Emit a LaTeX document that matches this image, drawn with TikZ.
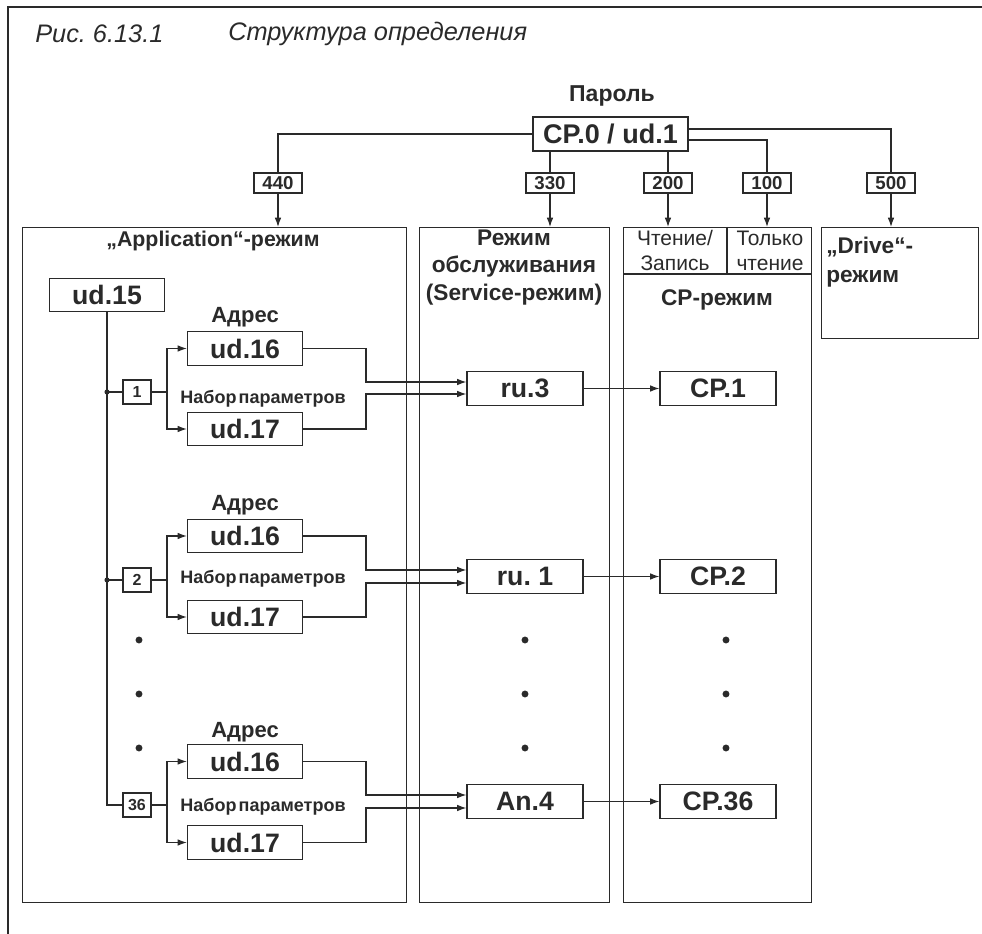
\documentclass[tikz,border=0pt]{standalone}
\usepackage{fontspec}
\setmainfont{Liberation Sans}
\usetikzlibrary{arrows.meta}
\definecolor{ink}{HTML}{2A2A2A}
\frenchspacing
\begin{document}
\begin{tikzpicture}[x=0.75pt,y=-0.75pt,
  ln/.style={line width=0.9pt, draw=ink},
  arr/.style={ln, -{Latex[length=7pt,width=5pt]}},
  bx/.style={draw=ink, line width=0.9pt, inner sep=0pt, text=ink, font=\bfseries\fontsize{20}{24}\selectfont},
  ubox/.style={bx, minimum width=86.25pt, minimum height=25pt},
  nbox/.style={bx, minimum width=36pt, minimum height=15pt, font=\bfseries\fontsize{14}{16}\selectfont},
  sbox/.style={bx, minimum width=21pt, minimum height=18pt, font=\bfseries\fontsize{12}{14}\selectfont},
  region/.style={draw=ink, line width=0.9pt, anchor=north west, inner sep=0pt},
  txt/.style={inner sep=0pt, text=ink},
  adr/.style={txt, font=\bfseries\fontsize{16.5}{19}\selectfont},
  nab/.style={txt, font=\bfseries\fontsize{13.5}{16}\selectfont},
  head/.style={txt, font=\bfseries\fontsize{17}{20.6}\selectfont},
  dotp/.style={fill=ink},
]
\useasboundingbox (0,0) rectangle (982,934);
% frame
\draw[line width=1.8pt, draw=ink] (982,7) -- (8,7) -- (8,934);
% title
\node[txt, anchor=west, font=\itshape\fontsize{19}{22}\selectfont] (t1) at (35,34) {Рис. 6.13.1};
\node[txt, anchor=west, font=\itshape\fontsize{19}{22}\selectfont] (t2) at (228,34) {Структура определения};
% password
\node[txt, font=\bfseries\fontsize{17.25}{20}\selectfont] (pw) at (612,96) {Пароль};
\node[bx, minimum width=116.25pt, minimum height=25.5pt, font=\bfseries\fontsize{20.25}{24}\selectfont] (cp0) at (610.5,134) {CP.0 / ud.1};
% number boxes
\node[nbox] (n440) at (278,183) {440};
\node[nbox] (n330) at (550,183) {330};
\node[nbox] (n200) at (668,183) {200};
\node[nbox] (n100) at (767,183) {100};
\node[nbox] (n500) at (891,183) {500};
% regions
\node[region, minimum width=288pt, minimum height=506.25pt] (app) at (22,227) {};
\node[region, minimum width=142.5pt, minimum height=506.25pt] (svc) at (419,227) {};
\node[region, minimum width=141pt, minimum height=506.25pt] (cpm) at (623,227) {};
\node[region, minimum width=117.75pt, minimum height=83.25pt] (drv) at (821,227) {};
\draw[ln] (cpm.west |- 0,274) -- (cpm.east |- 0,274);
\draw[ln] (727,227) -- (727,274);
% top connectors
\draw[ln] (cp0.west) -| (n440);
\draw[ln] (cp0.south -| n330) -- (n330);
\draw[ln] (cp0.south -| n200) -- (n200);
\draw[ln] (cp0.east |- 0,140) -| (n100);
\draw[ln] (cp0.east |- 0,129) -| (n500);
\draw[arr] (n440) -- (n440 |- app.north);
\draw[arr] (n330) -- (n330 |- svc.north);
\draw[arr] (n200) -- (n200 |- cpm.north);
\draw[arr] (n100) -- (n100 |- cpm.north);
\draw[arr] (n500) -- (n500 |- drv.north);
% region titles
\node[txt, font=\bfseries\fontsize{16}{19}\selectfont] (appt) at (213,241) {„Application“-режим};
\node[head, align=center] (svct) at (514,267.5) {Режим\\обслуживания\\(Service-режим)};
\node[txt, align=center, font=\fontsize{15.75}{18.75}\selectfont] (rw) at (675,250.5) {Чтение/\\Запись};
\node[txt, align=center, font=\fontsize{15.75}{18.75}\selectfont] (ro) at (770,250.5) {Только\\чтение};
\node[head] (cpt) at (717,300) {CP-режим};
\node[txt, align=left, anchor=west, font=\bfseries\fontsize{17}{21.75}\selectfont] (drvt) at (826,262.5) {„Drive“-\\режим};
% application mode
\node[ubox] (u15) at (107,295) {ud.15};
% group 1
\node[adr] (adr1) at (245,317) {Адрес};
\node[ubox] (u16a) at (245,348.5) {ud.16};
\node[sbox] (b1) at (137,392) {1};
\node[nab] (nab1) at (263,399) {Набор\hspace{0.12em}параметров};
\node[ubox] (u17a) at (245,429) {ud.17};
% group 2
\node[adr] (adr2) at (245,505) {Адрес};
\node[ubox] (u16b) at (245,536) {ud.16};
\node[sbox] (b2) at (137,580) {2};
\node[nab] (nab2) at (263,579) {Набор\hspace{0.12em}параметров};
\node[ubox] (u17b) at (245,617) {ud.17};
% group 3
\node[adr] (adr3) at (245,732) {Адрес};
\node[ubox] (u16c) at (245,761.5) {ud.16};
\node[sbox] (b3) at (137,805) {36};
\node[nab] (nab3) at (263,807) {Набор\hspace{0.12em}параметров};
\node[ubox] (u17c) at (245,842.5) {ud.17};
% service / CP boxes
\node[ubox, minimum width=87pt] (ru3) at (525,388.5) {ru.3};
\node[ubox, minimum width=87pt] (cp1) at (718,388.5) {CP.1};
\node[ubox, minimum width=87pt] (ru1) at (525,576.5) {ru. 1};
\node[ubox, minimum width=87pt] (cp2) at (718,576.5) {CP.2};
\node[ubox, minimum width=87pt] (an4) at (525,801.5) {An.4};
\node[ubox, minimum width=87pt] (cp36) at (718,801.5) {CP.36};
% trunk
\coordinate (j1) at (107,392);
\coordinate (j2) at (107,580);
\coordinate (k1) at (167,392);
\coordinate (k2) at (167,580);
\coordinate (k3) at (167,805);
\draw[ln] (u15.south) -- (107,805) -- (b3.west);
\draw[ln] (j1) -- (b1.west);
\draw[ln] (j2) -- (b2.west);
\fill[dotp] (j1) circle[radius=1.9pt];
\fill[dotp] (j2) circle[radius=1.9pt];
\draw[ln] (b1.east) -- (k1);
\draw[ln] (b2.east) -- (k2);
\draw[ln] (b3.east) -- (k3);
\draw[arr] (k1) |- (u16a.west);
\draw[arr] (k1) |- (u17a.west);
\draw[arr] (k2) |- (u16b.west);
\draw[arr] (k2) |- (u17b.west);
\draw[arr] (k3) |- (u16c.west);
\draw[arr] (k3) |- (u17c.west);
% to service
\draw[arr] (u16a.east) -| (366,382) -- (ru3.west |- 0,382);
\draw[arr] (u17a.east) -| (366,394) -- (ru3.west |- 0,394);
\draw[arr] (u16b.east) -| (366,570) -- (ru1.west |- 0,570);
\draw[arr] (u17b.east) -| (366,583) -- (ru1.west |- 0,583);
\draw[arr] (u16c.east) -| (366,795) -- (an4.west |- 0,795);
\draw[arr] (u17c.east) -| (366,808) -- (an4.west |- 0,808);
% to CP
\draw[arr] (ru3) -- (cp1);
\draw[arr] (ru1) -- (cp2);
\draw[arr] (an4) -- (cp36);
% ellipsis dots
\foreach \yy in {640,694,748} {
  \fill[dotp] (139,\yy) circle[radius=2.6pt];
  \fill[dotp] (525,\yy) circle[radius=2.6pt];
  \fill[dotp] (726,\yy) circle[radius=2.6pt];
}
\end{tikzpicture}
\end{document}
